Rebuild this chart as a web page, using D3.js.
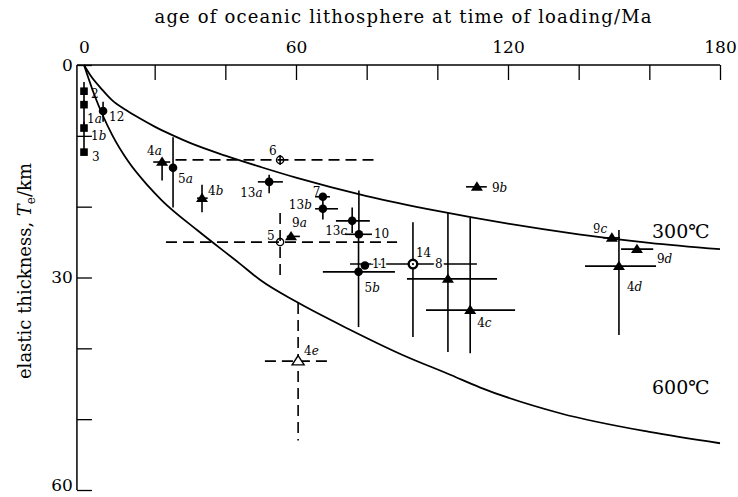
<!DOCTYPE html>
<html><head><meta charset="utf-8">
<script src="https://cdn.jsdelivr.net/npm/d3@7"></script>
<style>body{margin:0;background:#fff} svg{display:block}</style>
</head><body><svg id="c" width="738" height="497"></svg>
<script>
// ---- data ----
const sites  = ["2","1a","1b","3","12","4a","5a","6","4b","13a","7","13b","13c","10","5","9a","11","5b","14","8","4c","4e","9b","9c","9d","4d"];
const age    = [0, 0, 0, 0, 5.4, 22.1, 25.2, 55.5, 33.4, 52.4, 67.6, 67.6, 75.9, 77.8, 55.5, 58.6, 79.5, 77.7, 93.1, 103.0, 109.3, 60.6, 111.2, 149.4, 156.5, 151.4];
const te     = [3.7, 5.6, 8.9, 12.3, 6.5, 13.7, 14.5, 13.4, 18.8, 16.5, 18.6, 20.3, 22.0, 23.9, 25.0, 24.2, 28.3, 29.2, 28.1, 30.2, 34.6, 41.8, 17.2, 24.4, 26.0, 28.4];
const ageLo  = [null,null,null,null,null, 19.6, null, 25.9, 32.0, 49.2, 65.4, 65.4, 71.3, 73.9, 23.2, 57.4, null, 67.6, 75.3, 91.4, 96.8, 51.2, 108.1, 146.9, 152.0, 141.8];
const ageHi  = [null,null,null,null,null, 24.4, null, 83.2, 35.0, 56.3, 69.6, 71.9, 80.9, 81.5, 88.6, 61.1, null, 88.0, 111.2, 116.9, 122.0, 70.4, 114.0, 151.7, 161.1, 161.9];
const teLo   = [2.4, 5.0, 8.0, null, 5.2, 13.5, 10.2, 12.7, 16.9, 15.5, null, 18.8, 20.1, 17.7, 20.9, null, null, 24.0, 22.2, 20.9, 21.6, 33.6, null, null, null, 23.3];
const teHi   = [5.6, 8.9, 12.4, null, 8.0, 16.3, 20.1, 14.1, 20.8, 18.1, null, 21.8, 23.7, 24.0, 29.8, null, null, 37.0, 38.4, 40.5, 40.7, 53.0, null, null, null, 38.1];
const marker = ["square","square","square","square","circle","triangle","circle","openbar","triangle","circle","circle","circle","circle","circle","open","triangle","circle","circle","bullseye","triangle","triangle","opentriangle","triangle","triangle","triangle","triangle"];
const dashed = [false,false,false,false,false,false,false,true,false,false,false,false,false,false,true,false,false,false,false,false,false,true,false,false,false,false];

const xTickValues = [0,20,40,60,80,100,120,140,160,180];
const xTickLabels = [0,60,120,180];
const yTickValues = [0,10,20,30,40,50,60];
const yTickLabels = [0,30,60];

const iso300Age = [0, 2, 5, 8, 12, 16, 20, 25, 30, 40, 50, 60, 80, 100, 120, 140, 160, 180];
const iso300Te  = [0, 1.6, 3.4, 5.0, 6.4, 7.6, 8.7, 9.9, 11.0, 12.8, 14.4, 15.9, 18.5, 20.6, 22.4, 23.9, 25.1, 26.0];
const iso600Age = [0, 3, 5.4, 8, 12.5, 18, 22, 32, 44, 50, 60, 75, 90, 104, 112, 135, 160, 180];
const iso600Te  = [0, 4.3, 7.2, 9.9, 13.6, 17.0, 19.1, 23.3, 28.0, 30.4, 33.4, 37.3, 40.9, 43.8, 45.5, 49.2, 51.8, 53.4];
const isoNames  = ["300\u2103", "600\u2103"];

const titleX = "age of oceanic lithosphere at time of loading/Ma";

// ---- layout (pixel offsets of labels, styles) ----
const labelOffset = {
  "2":[7,7], "1a":[3,18], "1b":[7,12], "3":[8,9], "12":[6,10], "4a":[-15,-7], "5a":[5,15],
  "6":[-11,-5], "4b":[6,-3], "13a":[-29,15], "7":[-10,-1], "13b":[-34,0], "13c":[-27,14],
  "10":[15,4], "5":[-13,-2], "9a":[1,-9], "11":[7,3], "5b":[6,20], "14":[3,-7], "8":[-13,-11],
  "4c":[7,17], "4e":[6,-6], "9b":[15,5], "9c":[-19,-5], "9d":[20,14], "4d":[8,25]
};
const haloLabels = new Set(["11","8","9c"]);

const svg = d3.select("#c");
const serif = "'DejaVu Serif', 'Liberation Serif', serif";
const x = d3.scaleLinear().domain([0,180]).range([84,720]);
const y = d3.scaleLinear().domain([0,60]).range([65,490]);
const x0 = x(-2);

// axis lines
svg.append("line").attr("x1",x0).attr("x2",x(180)).attr("y1",y(0)).attr("y2",y(0)).attr("stroke","#000").attr("stroke-width",1.5);
svg.append("line").attr("x1",x0).attr("x2",x0).attr("y1",y(0)).attr("y2",y(60)).attr("stroke","#000").attr("stroke-width",1.5);

const gx = svg.append("g").attr("transform",`translate(0,${y(0)})`)
  .call(d3.axisTop(x).tickValues(xTickValues).tickSize(-15).tickSizeOuter(0).tickPadding(12)
    .tickFormat(d => xTickLabels.includes(d) ? d : ""));
gx.select(".domain").remove();
gx.selectAll(".tick line").attr("stroke-width",1.3).filter(d => d===0).remove();
gx.selectAll(".tick text").attr("font-family",serif).attr("font-size",17).attr("fill","#000");

const gy = svg.append("g").attr("transform",`translate(${x0},0)`)
  .call(d3.axisLeft(y).tickValues(yTickValues).tickSize(-15).tickSizeOuter(0).tickPadding(4)
    .tickFormat(d => yTickLabels.includes(d) ? d : ""));
gy.select(".domain").remove();
gy.selectAll(".tick line").attr("stroke-width",1.3);
gy.selectAll(".tick text").attr("font-family",serif).attr("font-size",17).attr("fill","#000")
  .attr("dy", d => d===60 ? "0.05em" : "0.32em");

// titles
svg.append("text").attr("x",403).attr("y",23).attr("text-anchor","middle")
  .attr("font-family",serif).attr("font-size",18)
  .attr("textLength",497).attr("lengthAdjust","spacing").text(titleX);
const yt = svg.append("text").attr("transform","translate(31,271) rotate(-90)").attr("text-anchor","middle")
  .attr("font-family",serif).attr("font-size",18);
yt.append("tspan").text("elastic thickness, ");
yt.append("tspan").attr("font-style","italic").text("T");
yt.append("tspan").attr("font-size",12).attr("dy",4).text("e");
yt.append("tspan").attr("dy",-4).text("/km");

// isotherm curves
const line = d3.line().x(d=>x(d[0])).y(d=>y(d[1])).curve(d3.curveMonotoneX);
[[iso300Age,iso300Te],[iso600Age,iso600Te]].forEach(([a,t]) => {
  svg.append("path").attr("d", line(a.map((v,i)=>[v,t[i]]))).attr("fill","none")
    .attr("stroke","#000").attr("stroke-width",1.8);
});
svg.append("text").attr("x",652).attr("y",238).attr("font-family",serif).attr("font-size",19).text(isoNames[0]);
svg.append("text").attr("x",652).attr("y",394).attr("font-family",serif).attr("font-size",19).text(isoNames[1]);

// error bars
const gb = svg.append("g").attr("stroke","#000").attr("stroke-width",1.6);
sites.forEach((s,i) => {
  const dash = dashed[i] ? "11,6" : null;
  if (ageLo[i] !== null) gb.append("line").attr("x1",x(ageLo[i])).attr("x2",x(ageHi[i]))
      .attr("y1",y(te[i])).attr("y2",y(te[i])).attr("stroke-dasharray",dash);
  if (teLo[i] !== null) gb.append("line").attr("x1",x(age[i])).attr("x2",x(age[i]))
      .attr("y1",y(teLo[i])).attr("y2",y(teHi[i])).attr("stroke-dasharray", s==="6" ? null : dash);
});

// markers
const gm = svg.append("g");
sites.forEach((s,i) => {
  const cx = x(age[i]), cy = y(te[i]);
  const m = marker[i];
  if (m==="square") gm.append("rect").attr("x",cx-3.8).attr("y",cy-3.8).attr("width",7.6).attr("height",7.6).attr("fill","#000");
  else if (m==="circle") gm.append("circle").attr("cx",cx).attr("cy",cy).attr("r",4.3).attr("fill","#000");
  else if (m==="triangle") gm.append("path").attr("d",`M${cx},${cy-5.5}L${cx+6},${cy+3.8}L${cx-6},${cy+3.8}Z`).attr("fill","#000");
  else if (m==="opentriangle") gm.append("path").attr("d",`M${cx},${cy-5.5}L${cx+6},${cy+3.8}L${cx-6},${cy+3.8}Z`).attr("fill","#fff").attr("stroke","#000").attr("stroke-width",1.4);
  else if (m==="open" || m==="openbar") gm.append("circle").attr("cx",cx).attr("cy",cy).attr("r",3.6).attr("fill","none").attr("stroke","#000").attr("stroke-width",1.4);
  else if (m==="bullseye") {
    gm.append("circle").attr("cx",cx).attr("cy",cy).attr("r",4.3).attr("fill","#fff").attr("stroke","#000").attr("stroke-width",2.4);
    gm.append("circle").attr("cx",cx).attr("cy",cy).attr("r",1.1).attr("fill","#000");
  }
});

// point labels
const gl = svg.append("g").attr("font-family",serif).attr("font-size",12);
sites.forEach((s,i) => {
  const [dx,dy] = labelOffset[s];
  const mt = s.match(/^(\d+)([a-z]?)$/);
  const t = gl.append("text").attr("x",x(age[i])+dx).attr("y",y(te[i])+dy);
  if (haloLabels.has(s)) t.attr("stroke","#fff").attr("stroke-width",4).attr("paint-order","stroke");
  t.append("tspan").text(mt[1]);
  if (mt[2]) t.append("tspan").attr("font-style","italic").text(mt[2]);
});
</script>
</body></html>
